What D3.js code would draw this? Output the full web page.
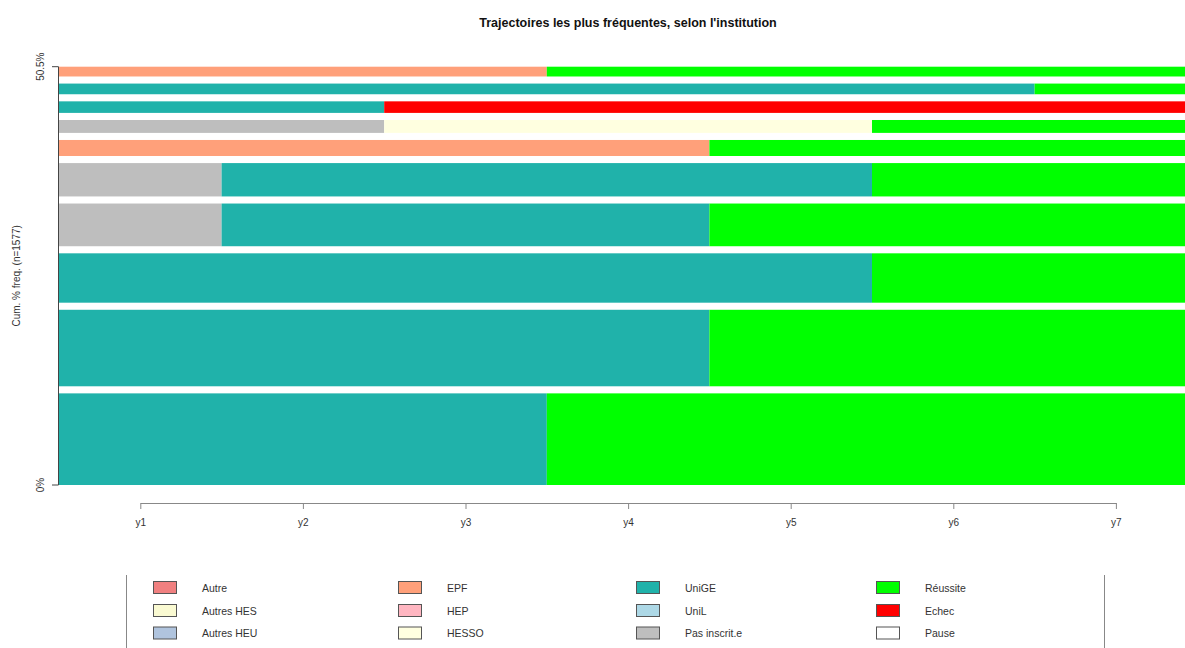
<!DOCTYPE html>
<html><head><meta charset="utf-8">
<script src="https://cdn.jsdelivr.net/npm/d3@7"></script>
<style>body{margin:0;background:#fff}svg{display:block;font-family:"Liberation Sans",Arial,sans-serif}</style>
</head><body><div id="chart"></div>
<script>
// ---- data ----
const title = "Trajectoires les plus fréquentes, selon l'institution";
const yLabel = "Cum. % freq. (n=1577)";
const nTotal = 1577;
const positions = ["y1","y2","y3","y4","y5","y6","y7"];
// sequences from bottom (most frequent) to top
const sequences = [
  ["UniGE","UniGE","UniGE","Réussite","Réussite","Réussite","Réussite"],
  ["UniGE","UniGE","UniGE","UniGE","Réussite","Réussite","Réussite"],
  ["UniGE","UniGE","UniGE","UniGE","UniGE","Réussite","Réussite"],
  ["Pas inscrit.e","UniGE","UniGE","UniGE","Réussite","Réussite","Réussite"],
  ["Pas inscrit.e","UniGE","UniGE","UniGE","UniGE","Réussite","Réussite"],
  ["EPF","EPF","EPF","EPF","Réussite","Réussite","Réussite"],
  ["Pas inscrit.e","Pas inscrit.e","HESSO","HESSO","HESSO","Réussite","Réussite"],
  ["UniGE","UniGE","Echec","Echec","Echec","Echec","Echec"],
  ["UniGE","UniGE","UniGE","UniGE","UniGE","UniGE","Réussite"],
  ["EPF","EPF","EPF","Réussite","Réussite","Réussite","Réussite"]
];
const counts = [206,172,111,96,75,36,29,26,24,22];
const states = ["Autre","Autres HES","Autres HEU","EPF","HEP","HESSO","UniGE","UniL","Pas inscrit.e","Réussite","Echec","Pause"];
const stateColors = ["#F08080","#FAFAD2","#B0C4DE","#FFA07A","#FFB6C1","#FFFFE0","#20B2AA","#ADD8E6","#BEBEBE","#00FF00","#FF0000","#FFFFFF"];

// ---- layout ----
const W = 1185, H = 648;
const svg = d3.select("#chart").append("svg").attr("width", W).attr("height", H);
const color = d3.scaleOrdinal().domain(states).range(stateColors);

const pct = counts.map(c => c / nTotal * 100);
const totalPct = d3.sum(pct);
const gap = 0.2 * totalPct / pct.length;
const bars = [];
let acc = 0;
pct.forEach((p, i) => { bars.push({seq: sequences[i], y0: acc, y1: acc + p}); acc += p + (i < pct.length - 1 ? gap : 0); });

const x = d3.scaleLinear().domain([0, positions.length]).range([59, 59 + 7 * 162.6]);
const y = d3.scaleLinear().domain([0, acc]).range([485, 66.7]);

// bars: merge consecutive identical states into runs (avoids seams)
const g = svg.append("g");
bars.forEach(b => {
  let start = 0;
  for (let j = 1; j <= b.seq.length; j++) {
    if (j === b.seq.length || b.seq[j] !== b.seq[start]) {
      g.append("rect")
        .attr("x", x(start)).attr("width", x(j) - x(start))
        .attr("y", y(b.y1)).attr("height", y(b.y0) - y(b.y1))
        .attr("fill", color(b.seq[start]));
      start = j;
    }
  }
});

// title
svg.append("text").attr("x", 628).attr("y", 27).attr("text-anchor", "middle")
  .attr("font-size", 12.5).attr("font-weight", "bold").attr("fill", "#111").text(title);

// y axis
const yTicks = [0, acc];
const yTickLabels = ["0%", d3.format(".1f")(totalPct) + "%"];
svg.append("line").attr("x1", 58.5).attr("x2", 58.5).attr("y1", y(0)).attr("y2", y(acc)).attr("stroke", "#444");
yTicks.forEach((t, i) => {
  svg.append("line").attr("x1", 52).attr("x2", 58.5).attr("y1", y(t)).attr("y2", y(t)).attr("stroke", "#444");
  svg.append("text").attr("transform", `translate(44,${y(t)}) rotate(-90)`).attr("text-anchor", "middle")
    .attr("font-size", 10).attr("fill", "#333").text(yTickLabels[i]);
});
svg.append("text").attr("transform", `translate(20,${(y(0) + y(acc)) / 2}) rotate(-90)`).attr("text-anchor", "middle")
  .attr("font-size", 10).attr("fill", "#333").text(yLabel);

// x axis
const xAxis = d3.axisBottom(d3.scalePoint().domain(positions).range([x(0.5), x(6.5)]))
  .tickSize(6).tickPadding(10).tickSizeOuter(0);
const xa = svg.append("g").attr("transform", "translate(0,503)").call(xAxis);
xa.select(".domain").attr("stroke", "#888");
xa.selectAll(".tick line").attr("stroke", "#888");
xa.selectAll(".tick text").attr("font-size", 10).attr("fill", "#333").attr("font-family", "Liberation Sans, Arial, sans-serif");

// legend
svg.append("line").attr("x1", 126.5).attr("x2", 126.5).attr("y1", 575).attr("y2", H).attr("stroke", "#888");
svg.append("line").attr("x1", 1104.5).attr("x2", 1104.5).attr("y1", 575).attr("y2", H).attr("stroke", "#888");
const colX = [153, 398, 636, 876];
const rowY = [581, 604, 626.5];
states.forEach((s, i) => {
  const c = Math.floor(i / 3), r = i % 3;
  svg.append("rect").attr("x", colX[c] + 0.5).attr("y", rowY[r] + 0.5).attr("width", 23).attr("height", 12)
    .attr("fill", color(s)).attr("stroke", "#555");
  svg.append("text").attr("x", colX[c] + 49).attr("y", rowY[r] + 10.5)
    .attr("font-size", 10.5).attr("fill", "#333").text(s);
});
</script></body></html>
